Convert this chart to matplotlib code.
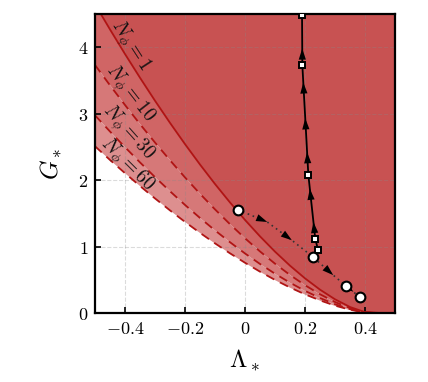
import numpy as np
import matplotlib
matplotlib.use('Agg')
import matplotlib.pyplot as plt

plt.rcParams['mathtext.fontset'] = 'cm'
plt.rcParams['font.family'] = 'serif'

# boundary curves G_*(Lambda_*) for each N_phi
lam = [-0.50, -0.45, -0.40, -0.35, -0.30, -0.25, -0.20, -0.15, -0.10, -0.05,
       0.00, 0.05, 0.10, 0.15, 0.20, 0.25, 0.30, 0.35, 0.40, 0.45, 0.50]
g_n1 = [4.647, 4.267, 3.897, 3.540, 3.194, 2.861, 2.541, 2.234, 1.941, 1.663,
        1.400, 1.153, 0.923, 0.712, 0.521, 0.351, 0.206, 0.090, 0.013, 0.0, 0.0]
g_n10 = [3.732, 3.426, 3.130, 2.842, 2.565, 2.298, 2.040, 1.794, 1.559, 1.336,
         1.124, 0.926, 0.742, 0.572, 0.418, 0.282, 0.165, 0.073, 0.011, 0.0, 0.0]
g_n30 = [2.975, 2.731, 2.495, 2.266, 2.045, 1.832, 1.626, 1.430, 1.243, 1.065,
         0.896, 0.738, 0.591, 0.456, 0.333, 0.225, 0.132, 0.058, 0.008, 0.0, 0.0]
g_n60 = [2.509, 2.303, 2.104, 1.911, 1.724, 1.544, 1.371, 1.206, 1.048, 0.898,
         0.756, 0.622, 0.498, 0.384, 0.281, 0.190, 0.111, 0.049, 0.007, 0.0, 0.0]

# solid trajectory (squares) and dotted trajectory (circles)
sq_lam = [0.243, 0.234, 0.211, 0.191, 0.190]
sq_g = [0.955, 1.12, 2.08, 3.73, 4.49]
sq_arrow_g = [1.37, 1.87, 2.42, 2.93, 3.47, 3.98]

dot_path_lam = [-0.024, 0.074, 0.156, 0.226, 0.294, 0.336, 0.361, 0.382]
dot_path_g = [1.555, 1.37, 1.095, 0.845, 0.57, 0.41, 0.32, 0.235]
circ_lam = [-0.024, 0.226, 0.336, 0.382]
circ_g = [1.555, 0.845, 0.41, 0.235]
dot_arrow_idx = [1, 2, 4, 6]

fig = plt.figure(figsize=(4.28, 3.82), dpi=100)
ax = fig.add_axes([0.222, 0.1806, 0.701, 0.7828])

top = 4.5
ax.fill_between(lam, g_n60, g_n30, color='#dd8f8f', lw=0, zorder=1)
ax.fill_between(lam, g_n30, g_n10, color='#d67878', lw=0, zorder=1)
ax.fill_between(lam, g_n10, g_n1, color='#d06565', lw=0, zorder=1)
ax.fill_between(lam, g_n1, top, color='#c85252', lw=0, zorder=1)

lc = '#b01414'
ax.plot(lam, g_n1, color=lc, lw=1.3, zorder=2)
for g in (g_n10, g_n30, g_n60):
    ax.plot(lam, g, color=lc, lw=1.3, ls=(0, (5, 3.5)), zorder=2)

# curve labels
labels = [(r'$N_\phi = 1$', -0.385, 4.02, -57),
          (r'$N_\phi = 10$', -0.385, 3.30, -52),
          (r'$N_\phi = 30$', -0.39, 2.71, -48),
          (r'$N_\phi = 60$', -0.395, 2.22, -45)]
for txt, x, y, rot in labels:
    ax.text(x, y, txt, rotation=rot, ha='center', va='center',
            rotation_mode='anchor', fontsize=14, color='#111111', zorder=3)

# trajectories
ax.plot(sq_lam, sq_g, color='k', lw=1.3, zorder=4)
ax.plot(dot_path_lam, dot_path_g, color='#333333', lw=1.2, ls=(0, (1, 2.2)), zorder=4)


def add_arrow(x0, y0, x1, y1):
    ax.annotate('', xy=(x1, y1), xytext=(x0, y0),
                arrowprops=dict(arrowstyle='-|>,head_length=0.8,head_width=0.26',
                                color='k', lw=0, shrinkA=0, shrinkB=0),
                zorder=5)


for ga in sq_arrow_g:
    # the trajectory rises monotonically in G, so interpolate along it
    xa = np.interp(ga, sq_g, sq_lam)
    xb = np.interp(ga - 0.2, sq_g, sq_lam)
    add_arrow(xb, ga - 0.2, xa, ga)

for i in dot_arrow_idx:
    x1, y1 = dot_path_lam[i], dot_path_g[i]
    x0, y0 = dot_path_lam[i - 1], dot_path_g[i - 1]
    add_arrow(x1 - 0.5 * (x1 - x0), y1 - 0.5 * (y1 - y0), x1, y1)

ax.plot(sq_lam, sq_g, ls='none', marker='s', ms=5, mfc='white', mec='k',
        mew=1.4, zorder=6)
ax.plot(circ_lam, circ_g, ls='none', marker='o', ms=7, mfc='white', mec='k',
        mew=1.5, zorder=6)

ax.set_xlim(-0.5, 0.5)
ax.set_ylim(0, top)
xt = [-0.4, -0.2, 0, 0.2, 0.4]
ax.set_xticks(xt)
ax.set_xticklabels([r'$-0.4$', r'$-0.2$', r'$0$', r'$0.2$', r'$0.4$'])
yt = [0, 1, 2, 3, 4]
ax.set_yticks(yt)
ax.set_yticklabels([r'$%d$' % v for v in yt])
ax.tick_params(direction='in', length=4, width=1.2, labelsize=13, pad=5)
ax.grid(True, ls='--', color='#888888', alpha=0.3, lw=0.8)
for s in ax.spines.values():
    s.set_linewidth(1.6)

ax.set_xlabel(r'$\Lambda_*$', fontsize=18, labelpad=7)
ax.set_ylabel(r'$G_*$', fontsize=18, labelpad=10)

fig.savefig('out.png', dpi=100)
